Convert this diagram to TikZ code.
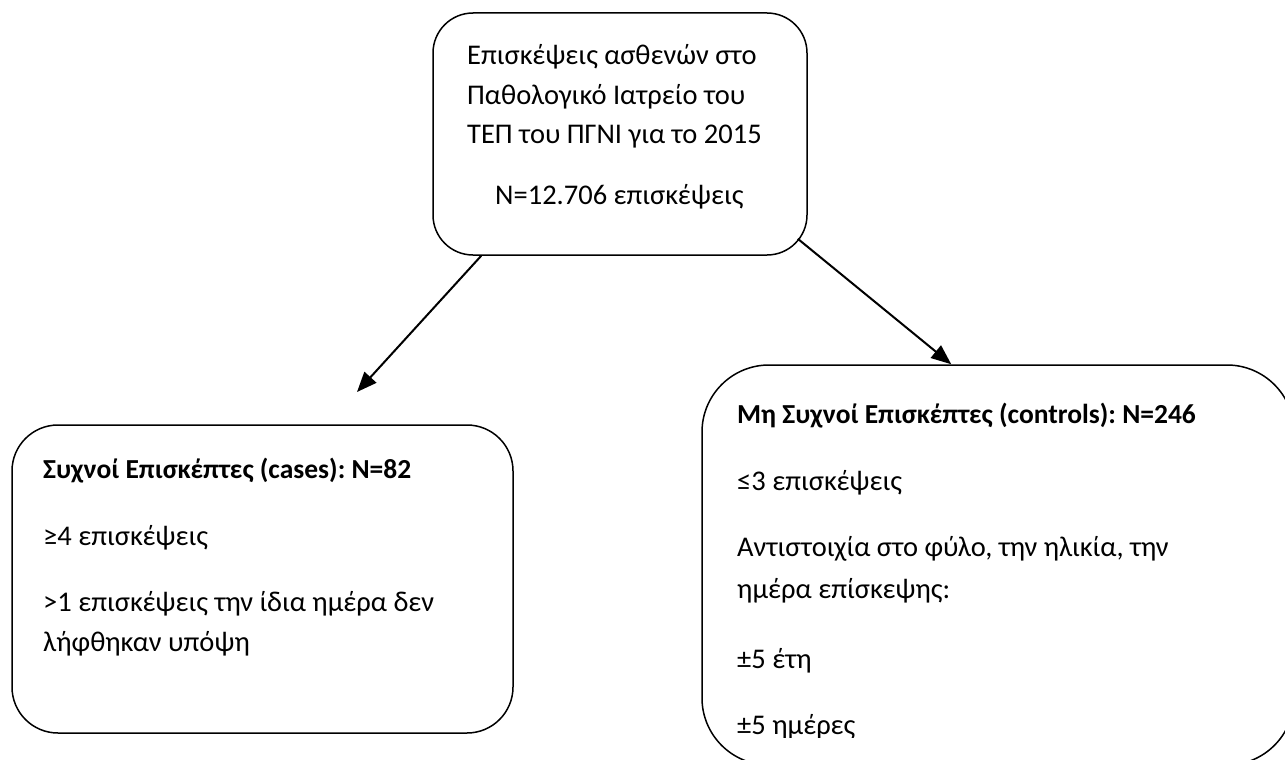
\documentclass[tikz,border=0pt]{standalone}
\usepackage{fontspec}
\setmainfont{Carlito}
\usetikzlibrary{arrows.meta,calc}
\frenchspacing
\begin{document}
\begin{tikzpicture}[x=1pt,y=-1pt,
  box/.style={draw,line width=1.5pt,inner sep=0pt},
  txt/.style={anchor=base west,inner sep=0pt,font=\fontsize{28.5}{40}\selectfont},
  ttl/.style={anchor=base west,inner sep=0pt,font=\fontsize{27.5}{40}\selectfont\bfseries},
  conn/.style={line width=2pt,-{Triangle[length=20pt,width=16pt]}}]
\clip (0,0) rectangle (1285,760);
\fill[white] (0,0) rectangle (1285,760);
% boxes
\node[box, rounded corners=40pt, minimum width=374pt, minimum height=242pt] (top) at (620,134) {};
\node[box, rounded corners=46pt, minimum width=501pt, minimum height=308pt] (left) at (262.5,579) {};
\node[box, rounded corners=67pt, minimum width=592pt, minimum height=400pt] (right) at (998,565) {};
% top texts
\node[txt] (t1) at (467,65) {Επισκέψεις ασθενών στο};
\node[txt] (t2) at (467,104) {Παθολογικό Ιατρείο του};
\node[txt] (t3) at (467,143) {ΤΕΠ του ΠΓΝΙ για το 2015};
\node[txt] (t4) at (495,204) {N=12.706 επισκέψεις};
% left texts
\node[ttl] (l1) at (43,478) {Συχνοί Επισκέπτες (cases): N=82};
\node[txt] (l2) at (43,545) {≥4 επισκέψεις};
\node[txt] (l3) at (43,611) {>1 επισκέψεις την ίδια ημέρα δεν};
\node[txt] (l4) at (43,651) {λήφθηκαν υπόψη};
% right texts
\node[ttl] (r1) at (737,423) {Μη Συχνοί Επισκέπτες (controls): N=246};
\node[txt] (r2) at (737,490) {≤3 επισκέψεις};
\node[txt] (r3) at (737,556) {Αντιστοιχία στο φύλο, την ηλικία, την};
\node[txt] (r4) at (737,598) {ημέρα επίσκεψης:};
\node[txt] (r5) at (737,668) {±5 έτη};
\begin{scope}
\clip (702,600) rectangle (1285,737);
\node[txt] (r6) at (737,734) {±5 ημέρες};
\end{scope}
% connectors
\coordinate (ltip) at (357,392);
\draw[conn] ($(top.south west)+(49,0)$) -- (ltip);
\draw[conn] ($(top.south east)+(-10,-17)$) -- ($(right.north west)+(250,0)$);
\end{tikzpicture}
\end{document}
